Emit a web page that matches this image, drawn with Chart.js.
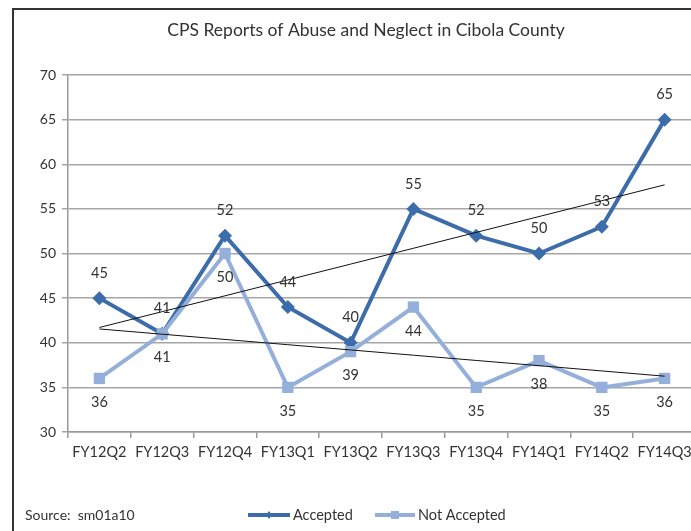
<!DOCTYPE html>
<html>
<head>
<meta charset="utf-8">
<script src="https://cdn.jsdelivr.net/npm/chart.js@4.4.1/dist/chart.umd.min.js"></script>
<style>
  html, body { margin: 0; padding: 0; background: #fff; overflow: hidden; }
  body { width: 691px; height: 531px; position: relative; }
  .frame { position: absolute; left: 12px; top: 8px; width: 700px; height: 540px;
           border-left: 2px solid #333; border-top: 2px solid #333; }
  .wrap { position: absolute; left: 0; top: 0; width: 710px; height: 531px; }
</style>
</head>
<body>
<div class="frame"></div>
<div class="wrap"><canvas id="cpsChart" width="710" height="531"></canvas></div>
<script>
const quarters = ['FY12Q2', 'FY12Q3', 'FY12Q4', 'FY13Q1', 'FY13Q2', 'FY13Q3', 'FY13Q4', 'FY14Q1', 'FY14Q2', 'FY14Q3'];
const accepted = [45, 41, 52, 44, 40, 55, 52, 50, 53, 65];
const notAccepted = [36, 41, 50, 35, 39, 44, 35, 38, 35, 36];
const yTicks = [30, 35, 40, 45, 50, 55, 60, 65, 70];

const darkBlue = '#3D6CAB';
const lightBlue = '#93AFDA';
const font = 'Lato, "Open Sans", sans-serif';

// linear trend line (least squares), like the spreadsheet's trendline
function trend(values) {
    const n = values.length;
    const mx = (n - 1) / 2;
    const my = values.reduce((a, b) => a + b, 0) / n;
    let sxy = 0, sxx = 0;
    values.forEach((v, i) => { sxy += (i - mx) * (v - my); sxx += (i - mx) * (i - mx); });
    const slope = sxy / sxx;
    return values.map((v, i) => my + slope * (i - mx));
}

const labelsPlugin = {
    id: 'valueLabels',
    afterDatasetsDraw(chart) {
        const ctx = chart.ctx;
        ctx.save();
        ctx.font = '14.5px ' + font;
        ctx.fillStyle = '#333';
        ctx.textAlign = 'center';
        ctx.textBaseline = 'middle';
        [0, 1].forEach(di => {
            const meta = chart.getDatasetMeta(di);
            const data = chart.data.datasets[di].data;
            meta.data.forEach((pt, i) => {
                const dy = di === 0 ? -25 : 24;
                ctx.fillText(String(data[i]), pt.x, pt.y + dy);
            });
        });
        ctx.restore();
    },
    afterDraw(chart) {
        const ctx = chart.ctx;
        ctx.save();
        ctx.fillStyle = '#333';
        ctx.textBaseline = 'middle';

        // title, centred where the spreadsheet put it
        ctx.textAlign = 'center';
        ctx.font = '17.5px ' + font;
        ctx.fillText('CPS Reports of Abuse and Neglect in Cibola County', 366, 30);

        ctx.textAlign = 'left';
        const y = 515;
        ctx.font = '14px ' + font;
        ctx.fillText('Source:  sm01a10', 25, y);

        // legend
        ctx.font = '14.5px ' + font;
        const items = [
            { x: 248, w: 42, color: darkBlue, text: 'Accepted', marker: 'diamond' },
            { x: 375, w: 40, color: lightBlue, text: 'Not Accepted', marker: 'square' }
        ];
        items.forEach(it => {
            ctx.strokeStyle = it.color;
            ctx.lineWidth = 4;
            ctx.beginPath();
            ctx.moveTo(it.x, y);
            ctx.lineTo(it.x + it.w, y);
            ctx.stroke();
            ctx.fillStyle = it.color;
            const cx = it.x + it.w / 2;
            if (it.marker === 'diamond') {
                ctx.beginPath();
                ctx.moveTo(cx, y - 4); ctx.lineTo(cx + 3, y); ctx.lineTo(cx, y + 4); ctx.lineTo(cx - 3, y);
                ctx.closePath(); ctx.fill();
            } else {
                ctx.fillRect(cx - 4, y - 4, 8, 8);
            }
            ctx.fillStyle = '#333';
            ctx.fillText(it.text, it.x + it.w + 3, y);
        });
        ctx.restore();
    }
};

const ctx = document.getElementById('cpsChart').getContext('2d');
new Chart(ctx, {
    type: 'line',
    data: {
        labels: quarters,
        datasets: [{
            label: 'Accepted',
            data: accepted,
            borderColor: darkBlue,
            backgroundColor: darkBlue,
            borderWidth: 4,
            pointStyle: 'rectRot',
            pointRadius: 7,
            pointBorderWidth: 0,
            order: 2
        }, {
            label: 'Not Accepted',
            data: notAccepted,
            borderColor: lightBlue,
            backgroundColor: lightBlue,
            borderWidth: 4,
            pointStyle: 'rect',
            pointRadius: 8,
            pointBorderWidth: 0,
            order: 1
        }, {
            label: 'Accepted trend',
            data: trend(accepted),
            borderColor: '#111',
            borderWidth: 1,
            pointRadius: 0,
            order: 0
        }, {
            label: 'Not Accepted trend',
            data: trend(notAccepted),
            borderColor: '#111',
            borderWidth: 1,
            pointRadius: 0,
            order: 0
        }]
    },
    options: {
        responsive: false,
        animation: false,
        layout: { padding: { left: 0, right: 14, bottom: 59, top: 75 } },
        plugins: {
            legend: { display: false },
            tooltip: { enabled: false },
            title: { display: false }
        },
        scales: {
            x: {
                offset: true,
                grid: { offset: true, drawOnChartArea: false, color: '#999', tickLength: 6, lineWidth: 1.5 },
                border: { color: '#999', width: 1.5 },
                ticks: { color: '#333', font: { family: font, size: 14.5 }, padding: 6, maxRotation: 0, autoSkip: false },
                afterFit(scale) { scale.height = 40; }
            },
            y: {
                min: 30,
                max: 70,
                afterBuildTicks(scale) { scale.ticks = yTicks.map(v => ({ value: v })); },
                grid: { color: '#a6a6a6', lineWidth: 1.5, tickLength: 6 },
                border: { color: '#999', width: 1.5 },
                ticks: { color: '#333', font: { family: font, size: 14 }, padding: 6 },
                afterFit(scale) { scale.width = 68; }
            }
        }
    },
    plugins: [labelsPlugin]
});
</script>
</body>
</html>
